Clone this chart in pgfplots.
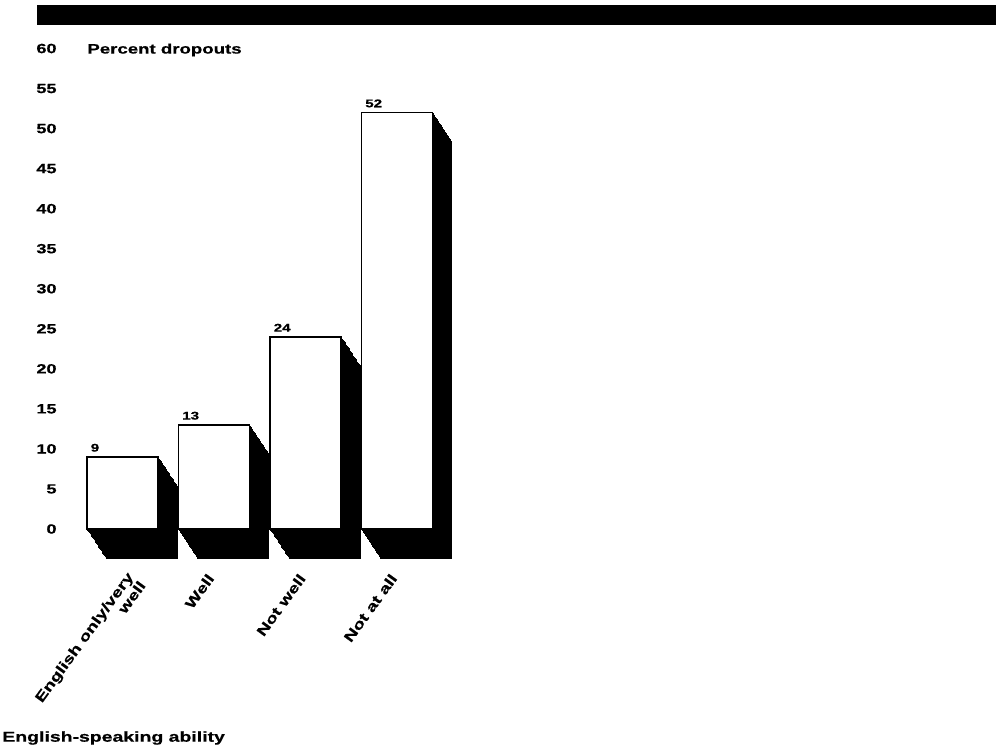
\documentclass[border=0pt]{standalone}
\usepackage{pgfplots}
\usepackage{pgfplotstable}
\pgfplotsset{compat=1.18}
\usepackage{fontspec}
\setmainfont{Liberation Sans}[FakeStretch=1.35, BoldFeatures={FakeBold=0.6}]
\pgfplotstableread{
x y
0 9
1 13
2 24
3 52
}\datatable
\begin{document}
\begin{tikzpicture}
\path[use as bounding box] (-38.375pt,-110.5pt) rectangle (459.625pt,264.5pt);
\fill[black] (-19.875pt,252pt) rectangle (459.625pt,262pt);
\begin{axis}[
  at={(0pt,0pt)}, anchor=south west,
  scale only axis, width=183pt, height=240.25pt,
  xmin=-0.5, xmax=3.5, ymin=0, ymax=60,
  clip=false,
  axis line style={draw=none},
  major tick length=0pt,
  tick style={draw=none},
  /pgf/number format/assume math mode=true,
  ytick={0,5,...,60},
  yticklabel style={anchor=east, inner sep=0pt, xshift=-9.9pt, font=\bfseries\fontsize{6.7}{8}\selectfont},
  xtick={1,2,3},
  xticklabels={{Well},{Not well},{Not at all}},
  xticklabel style={xshift=-1.5pt, yshift=-23.2pt, rotate=54, anchor=east, align=right, inner sep=0pt, font=\bfseries\fontsize{7}{6}\selectfont},
  extra x ticks={0},
  extra x tick labels={{English only/very\\well}},
  extra x tick style={xticklabel style={rotate=-54, xshift=8.4pt, yshift=-1.3pt, rotate=54}},
]
\pgfplotsinvokeforeach{1,...,24}{
  \addplot[ybar, bar width=35.5pt, bar shift=0pt, fill=black, draw=black, line width=0.4pt,
    xshift={#1*9.5pt/24}, yshift={-#1*14.5pt/24}] table[x=x,y=y] {\datatable};
}
\addplot[ybar, bar width=35.5pt, bar shift=0pt, fill=white, draw=black, line width=0.8pt,
  nodes near coords,
  every node near coord/.style={anchor=south west, inner sep=0pt, xshift=-16.25pt, yshift=2.2pt, font=\bfseries\fontsize{5.6}{6}\selectfont}]
  table[x=x,y=y] {\datatable};
\end{axis}
\node[anchor=west, inner sep=0pt, font=\bfseries\fontsize{6.9}{8}\selectfont] at (5.125pt,239.5pt) {Percent dropouts};
\node[anchor=west, inner sep=0pt, font=\bfseries\fontsize{7.2}{8}\selectfont] at (-37.4pt,-104.5pt) {English-speaking ability};
\end{tikzpicture}
\end{document}
